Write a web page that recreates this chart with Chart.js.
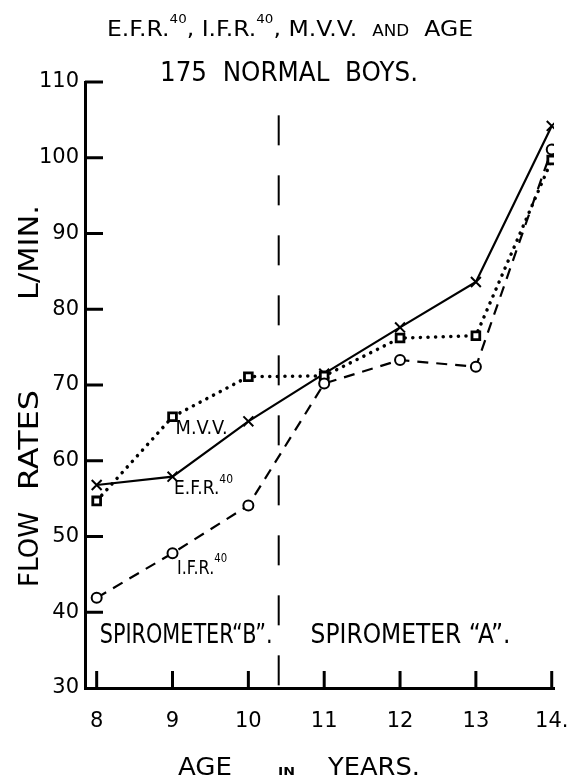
<!DOCTYPE html>
<html>
<head>
<meta charset="utf-8">
<script src="https://cdn.jsdelivr.net/npm/chart.js@4.4.1/dist/chart.umd.min.js"></script>
<style>
  html, body { margin: 0; padding: 0; background: #fff; }
  canvas { display: block; }
</style>
</head>
<body>
<canvas id="grafico" width="568" height="779"></canvas>
<script>
// values (L/min by age)
const ages = [8, 9, 10, 11, 12, 13, 14];
const efr40 = [56.8, 57.9, 65.2, 71.5, 77.6, 83.6, 104.2];
const mvv = [54.7, 65.8, 71.1, 71.2, 76.2, 76.5, 99.7];
const ifr40 = [41.9, 47.8, 54.1, 70.2, 73.3, 72.4, 101.1];
const yTicks = [30, 40, 50, 60, 70, 80, 90, 100, 110];
const xTickLabels = ['8', '9', '10', '11', '12', '13', '14.'];
const switchAge = 10.4; // spirometer B -> A

const FONT = '"DejaVu Sans"';

// draws runs of text [text, size, rise] squeezed to a given width
function writeFit(ctx, parts, x, y, width) {
  let total = 0;
  parts.forEach(p => {
    ctx.font = (p[3] || '') + ' ' + p[1] + 'px ' + FONT;
    total += ctx.measureText(p[0]).width;
  });
  ctx.save();
  ctx.translate(x, y);
  ctx.scale(width / total, 1);
  ctx.textAlign = 'left';
  ctx.textBaseline = 'alphabetic';
  ctx.fillStyle = '#000';
  let cx = 0;
  parts.forEach(p => {
    ctx.font = (p[3] || '') + ' ' + p[1] + 'px ' + FONT;
    ctx.fillText(p[0], cx, -(p[2] || 0));
    cx += ctx.measureText(p[0]).width;
  });
  ctx.restore();
}

function line(ctx, x1, y1, x2, y2) {
  ctx.beginPath();
  ctx.moveTo(x1, y1);
  ctx.lineTo(x2, y2);
  ctx.stroke();
}

const extras = {
  id: 'extras',
  beforeDatasetsDraw(chart) {
    const ctx = chart.ctx;
    const xs = chart.scales.x, ys = chart.scales.y;
    const area = chart.chartArea;
    ctx.save();
    ctx.strokeStyle = '#000';
    ctx.lineCap = 'butt';
    ctx.lineWidth = 3;
    // ticks point inward
    yTicks.forEach(v => {
      if (v === 30) return;
      const py = ys.getPixelForValue(v);
      line(ctx, area.left, py, area.left + 18, py);
    });
    ages.forEach(v => {
      const px = xs.getPixelForValue(v);
      line(ctx, px, area.bottom, px, area.bottom - 17);
    });
    // spirometer change
    ctx.lineWidth = 2;
    ctx.setLineDash([30, 30]);
    const px = xs.getPixelForValue(switchAge);
    line(ctx, px, ys.getPixelForValue(105.6), px, area.bottom);
    ctx.restore();
  },
  afterDraw(chart) {
    const ctx = chart.ctx;
    const xs = chart.scales.x, ys = chart.scales.y;
    const X = v => xs.getPixelForValue(v);
    const Y = v => ys.getPixelForValue(v);

    // title
    writeFit(ctx, [['E.F.R.', 21], ['40', 12, 13], [', I.F.R.', 21], ['40', 12, 13],
      [', M.V.V.  ', 21], ['AND', 15], ['  AGE', 21]], 107, 36, 366);
    writeFit(ctx, [['175  NORMAL  BOYS.', 27]], 160, 81, 258);

    // series labels
    writeFit(ctx, [['M.V.V.', 19]], X(9.04), Y(63.5), 52);
    writeFit(ctx, [['E.F.R.', 19], ['40', 12, 11]], X(9.02), Y(55.6), 59);
    writeFit(ctx, [['I.F.R.', 19], ['40', 12, 12]], X(9.06), Y(45.1), 50);
    writeFit(ctx, [['SPIROMETER\u201CB\u201D.', 27]], X(8.04), Y(35.9), 173);
    writeFit(ctx, [['SPIROMETER \u201CA\u201D.', 27]], X(10.82), Y(36.0), 200);

    // axis titles
    writeFit(ctx, [['AGE', 25]], 178, 775, 54);
    writeFit(ctx, [['IN', 11, 0, 'bold']], 278, 775, 17);
    writeFit(ctx, [['YEARS.', 25]], 328, 775, 92);

    ctx.save();
    ctx.translate(38, 0);
    ctx.rotate(-Math.PI / 2);
    writeFit(ctx, [['FLOW', 26]], -587, 0, 75);
    writeFit(ctx, [['RATES', 26]], -490, 0, 100);
    writeFit(ctx, [['L/MIN.', 26]], -300, 0, 95);
    ctx.restore();
  }
};

const ctx = document.getElementById('grafico');

const points = vals => ages.map((a, i) => ({ x: a, y: vals[i] }));

new Chart(ctx, {
  type: 'line',
  data: {
    datasets: [
      {
        label: 'I.F.R. 40',
        data: points(ifr40),
        borderColor: '#000',
        borderWidth: 2.2,
        borderDash: [11, 8],
        pointStyle: 'circle',
        pointRadius: 5,
        pointBorderWidth: 2,
        pointBackgroundColor: '#fff',
        pointBorderColor: '#000'
      },
      {
        label: 'M.V.V.',
        data: points(mvv),
        borderColor: '#000',
        borderWidth: 3.5,
        borderDash: [0.1, 7.5],
        borderCapStyle: 'round',
        pointStyle: 'rect',
        pointRadius: 5.5,
        pointBorderWidth: 2.8,
        pointBackgroundColor: '#fff',
        pointBorderColor: '#000'
      },
      {
        label: 'E.F.R. 40',
        data: points(efr40),
        borderColor: '#000',
        borderWidth: 2.2,
        pointStyle: 'crossRot',
        pointRadius: 7,
        pointBorderWidth: 2,
        pointBorderColor: '#000'
      }
    ]
  },
  options: {
    responsive: false,
    animation: false,
    devicePixelRatio: 1,
    layout: { padding: { top: 82, right: 14, left: 0, bottom: 0 } },
    plugins: {
      legend: { display: false },
      tooltip: { enabled: false },
      title: { display: false }
    },
    scales: {
      x: {
        type: 'linear',
        min: 7.846,
        max: 14.03,
        afterFit: s => {
          s.height = 91;
          s.paddingLeft = 0;
          s.paddingRight = 0;
        },
        afterBuildTicks: s => { s.ticks = ages.map(v => ({ value: v })); },
        grid: { display: false, drawTicks: false },
        border: { display: true, color: '#000', width: 3 },
        ticks: {
          color: '#000',
          padding: 21,
          font: { family: 'DejaVu Sans', size: 21 },
          callback: v => xTickLabels[ages.indexOf(v)]
        }
      },
      y: {
        min: 30,
        max: 110,
        afterFit: s => {
          s.width = 85;
          s.paddingTop = 0;
          s.paddingBottom = 0;
        },
        afterBuildTicks: s => { s.ticks = yTicks.map(v => ({ value: v })); },
        grid: { display: false, drawTicks: false },
        border: { display: true, color: '#000', width: 3 },
        ticks: {
          color: '#000',
          padding: 6,
          font: { family: 'DejaVu Sans', size: 21 }
        }
      }
    }
  },
  plugins: [extras]
});
</script>
</body>
</html>
